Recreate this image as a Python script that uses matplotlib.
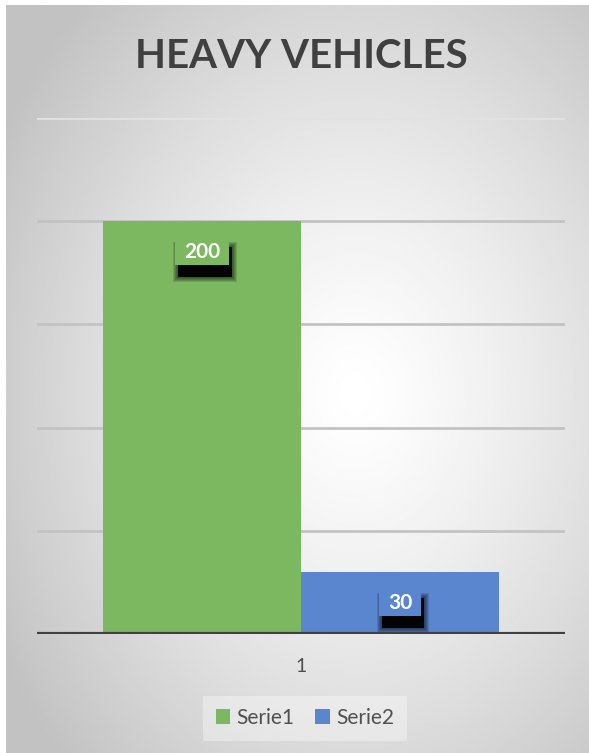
import matplotlib.pyplot as plt
import matplotlib.transforms as mtransforms
from matplotlib.patches import Rectangle
import numpy as np

plt.rcParams["font.family"] = ["Lato", "DejaVu Sans"]

# data
categories = ["1"]
series_names = ["Serie1", "Serie2"]
series_values = [[200], [30]]
series_colors = ["#7cb860", "#5a86cf"]
y_max = 250
y_step = 50

W, H = 589, 753
fig = plt.figure(figsize=(W / 100, H / 100), dpi=100)
fig.patch.set_facecolor("white")

# radial gradient background of the chart area
bg = fig.add_axes([6 / W, 0, 1 - 6 / W, 1 - 5 / H], zorder=0)
gx, gy = np.meshgrid(np.linspace(0, 1, 300), np.linspace(0, 1, 380))
r = np.sqrt(((gx - 0.6) / 0.75) ** 2 + ((gy - 0.52) / 0.75) ** 2)
shade = np.clip(1.0 - 0.26 * r ** 1.3, 0.76, 1.0)
bg.imshow(shade, cmap="gray", vmin=0, vmax=1, aspect="auto", extent=[0, 1, 0, 1])
bg.set_axis_off()

ax = fig.add_axes([37 / W, (H - 634) / H, (565 - 37) / W, (634 - 118) / H], zorder=1)
ax.set_facecolor("none")


def data_label(ax, xv, yv, text, color):
    # box of fixed pixel size hanging under the bar top, with a soft black shadow
    trans = fig.dpi_scale_trans + mtransforms.ScaledTranslation(xv, yv, ax.transData)
    bw, bh, cy = 0.19 + 0.115 * len(text), 0.30, -0.29
    dx, dy = 0.03, -0.12
    for k in range(5, 0, -1):
        grow = k * 0.01
        ax.add_patch(Rectangle((-bw / 2 + dx - grow, cy - bh / 2 + dy - grow),
                               bw + 2 * grow, bh + 2 * grow, transform=trans,
                               facecolor="black", edgecolor="none", alpha=0.13, zorder=3))
    ax.add_patch(Rectangle((-bw / 2 + dx, cy - bh / 2 + dy), bw, bh, transform=trans,
                           facecolor="black", edgecolor="none", alpha=0.95, zorder=3))
    ax.add_patch(Rectangle((-bw / 2, cy - bh / 2), bw, bh, transform=trans,
                           facecolor=color, edgecolor="none", zorder=4))
    ax.text(0, cy, text, transform=trans, ha="center", va="center_baseline",
            fontsize=15, fontweight="bold", color="white", zorder=5)


group_width = 0.75
bar_w = group_width / len(series_values)
x = np.arange(len(categories))
for i, (name, vals, col) in enumerate(zip(series_names, series_values, series_colors)):
    pos = x - group_width / 2 + bar_w * (i + 0.5)
    bars = ax.bar(pos, vals, width=bar_w, color=col, label=name, zorder=2)
    for b, v in zip(bars, vals):
        data_label(ax, b.get_x() + b.get_width() / 2, v, f"{v}", col)

ax.set_xlim(-0.5, 0.5)
ax.set_ylim(0, y_max)
for yv in np.arange(y_step, y_max + 1, y_step):
    c = "#e2e2e2" if yv == y_max else "#c3c3c3"
    ax.axhline(yv, color=c, lw=2, zorder=1)
ax.axhline(0, color="#404040", lw=3, zorder=3)

ax.set_yticks([])
ax.set_xticks(x)
ax.set_xticklabels(categories, fontsize=14, color="#505050")
ax.tick_params(axis="x", length=0, pad=17)
for s in ax.spines.values():
    s.set_visible(False)

fig.text(301 / W, 1 - 57 / H, "HEAVY VEHICLES", ha="center", va="center",
         fontsize=29, fontweight="bold", color="#404040")

leg = fig.legend(loc="center", bbox_to_anchor=(305 / W, 1 - 718 / H), ncol=2,
                 frameon=True, fontsize=15, handlelength=0.7, handleheight=0.7,
                 handletextpad=0.3, columnspacing=1.0, borderpad=0.6, fancybox=False)
leg.get_frame().set_facecolor("white")
leg.get_frame().set_alpha(0.35)
leg.get_frame().set_edgecolor("none")
for txt in leg.get_texts():
    txt.set_color("#505050")

fig.savefig("out.png", dpi=100)
